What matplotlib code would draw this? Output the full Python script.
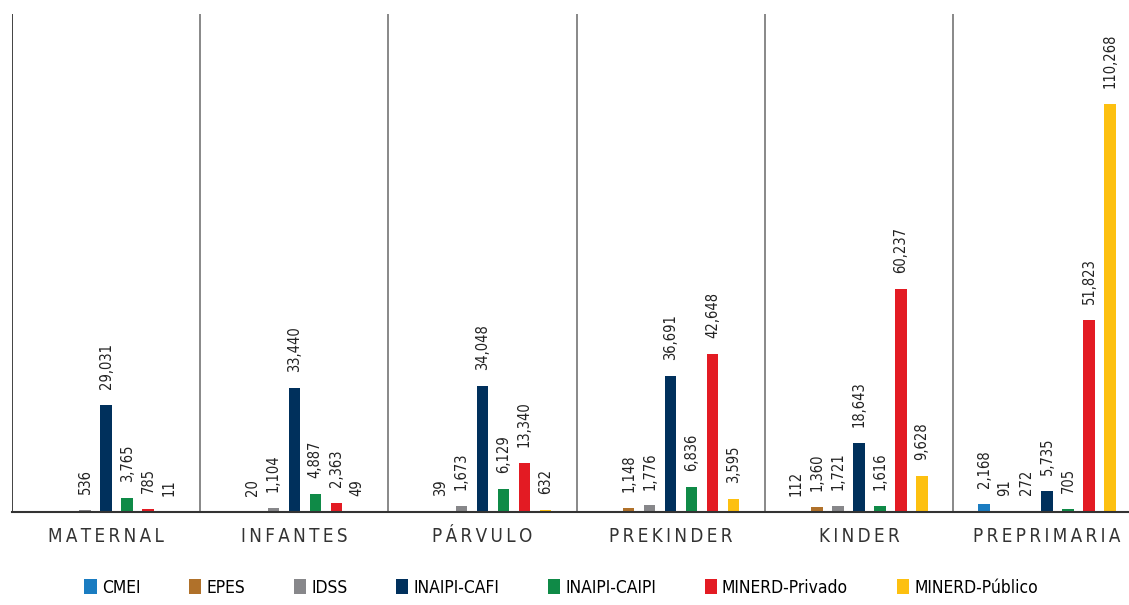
import numpy as np
import matplotlib.pyplot as plt

categories = ['MATERNAL', 'INFANTES', 'PÁRVULO', 'PREKINDER', 'KINDER', 'PREPRIMARIA']
series = ['CMEI', 'EPES', 'IDSS', 'INAIPI-CAFI', 'INAIPI-CAIPI', 'MINERD-Privado', 'MINERD-Público']
colors = ['#1a7cc1', '#b0712a', '#87878a', '#00305c', '#0f8a47', '#e31b23', '#fdc010']

# one list per series, None = no data for that level
cmei = [None, None, None, None, 112, 2168]
epes = [None, 20, 39, 1148, 1360, 91]
idss = [536, 1104, 1673, 1776, 1721, 272]
cafi = [29031, 33440, 34048, 36691, 18643, 5735]
caipi = [3765, 4887, 6129, 6836, 1616, 705]
privado = [785, 2363, 13340, 42648, 60237, 51823]
publico = [11, 49, 632, 3595, 9628, 110268]
values = [cmei, epes, idss, cafi, caipi, privado, publico]

fig = plt.figure(figsize=(11.29, 6.05), dpi=100)
ax = fig.add_axes([12 / 1129, 1 - 512 / 605, 1117 / 1129, 498 / 605])

x = np.arange(len(categories)) + 0.5
step = 0.1116
width = 0.06
for i, (name, vals, c) in enumerate(zip(series, values, colors)):
    pos = x + (i - 3) * step
    h = [v if v is not None else 0 for v in vals]
    ax.bar(pos, h, width=width, color=c, label=name, zorder=2)
    for p, v in zip(pos, vals):
        if v is None:
            continue
        ax.text(p, v + 4300, f'{v:,}', rotation=90, ha='center', va='bottom',
                fontsize=10.5, fontstretch='condensed', color='#222222')

ax.set_xlim(0, 1117 / 188.2)
ax.set_ylim(0, 134600)
for k in range(len(categories)):
    ax.axvline(k, color='#7f7f7f' if k else '#333333', lw=1.3, zorder=1)

for s in ['top', 'right', 'left']:
    ax.spines[s].set_visible(False)
ax.spines['bottom'].set_color('#333333')
ax.spines['bottom'].set_linewidth(1.5)
ax.set_yticks([])
ax.set_xticks(x)
ax.set_xticklabels(['\u2009'.join(c) for c in categories], fontsize=13.5,
                   fontstretch='condensed', color='#333333')
ax.tick_params(axis='x', length=0, pad=11)

fig.legend(loc='lower center', bbox_to_anchor=(0.497, -0.012), ncol=7, frameon=False,
           handlelength=0.7, handleheight=0.9, handletextpad=0.3,
           columnspacing=2.8, prop={'stretch': 'condensed', 'size': 12.5})

fig.savefig('out.png', dpi=100)
